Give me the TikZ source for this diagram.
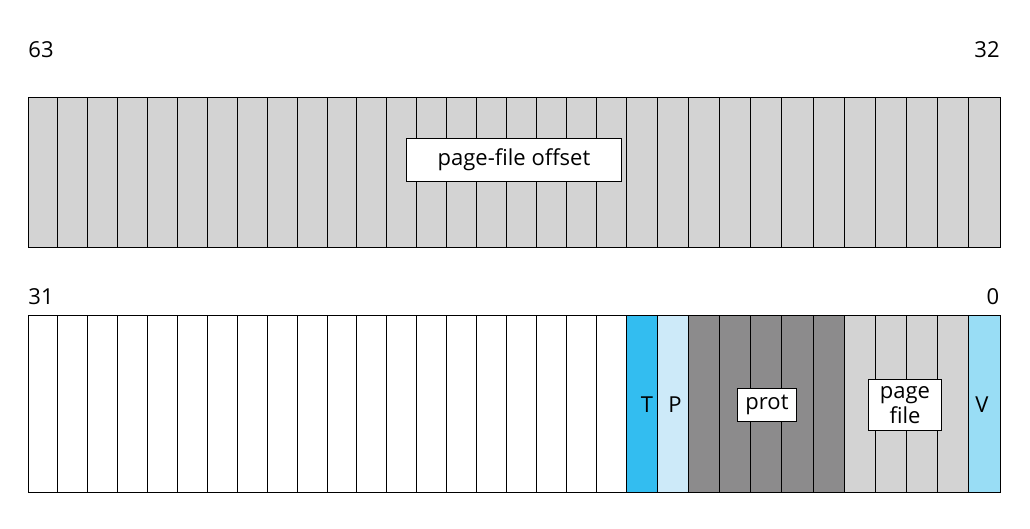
\documentclass[tikz,border=0pt]{standalone}
\usepackage{fontspec}
\setmainfont{Open Sans}
\usetikzlibrary{positioning}
\definecolor{cellgrey}{HTML}{D3D3D3}
\definecolor{protgrey}{HTML}{8C8B8C}
\definecolor{tblue}{HTML}{33BDF0}
\definecolor{pblue}{HTML}{CDEAF9}
\definecolor{vblue}{HTML}{99DDF5}
\begin{document}
\begin{tikzpicture}[x=1pt,y=-1pt,font=\fontsize{22}{25}\selectfont,
                    every node/.style={inner sep=0pt}]
  \tikzstyle{cell}=[draw=black,line width=1pt]
  \tikzstyle{tag}=[draw=black,fill=white,line width=1pt,inner xsep=8pt,inner ysep=7pt,align=center]
  \useasboundingbox (0,0) rectangle (1030,529);

  % upper word, bits 63..32
  \foreach \i in {0,...,19}
    \draw[cell,fill=cellgrey] (28+29.9*\i,98) rectangle (28+29.9*\i+29.9,248);
  \foreach \j in {0,...,11}
    \draw[cell,fill=cellgrey] (626+31.17*\j,98) rectangle (626+31.17*\j+31.17,248);

  % lower word, bits 31..0
  \foreach \i in {0,...,19}
    \draw[cell,fill=white] (28+29.9*\i,315) rectangle (28+29.9*\i+29.9,492);
  \foreach \j/\c in {0/tblue,1/pblue,2/protgrey,3/protgrey,4/protgrey,5/protgrey,
                     6/protgrey,7/cellgrey,8/cellgrey,9/cellgrey,10/cellgrey,11/vblue}
    \draw[cell,fill=\c] (626+31.17*\j,315) rectangle (626+31.17*\j+31.17,492);

  % bit numbers
  \node (hi)  at (41,50)  {63};
  \node (mid) at (987,50) {32};
  \node (lo)  at (41,297) {31};
  \node (z)   at (993,297) {0};

  % field labels
  \node[tag,inner xsep=31pt,inner ysep=10pt] (offset) at (514,160) {page-file offset};
  \node (T) at (647,405) {T};
  \node (P) at (675,405) {P};
  \node[tag] (prot) at (767,405) {prot};
  \node[tag,inner xsep=11pt] (pf) at (905,405) {page\\file};
  \node (V) at (982,405) {V};
\end{tikzpicture}
\end{document}
